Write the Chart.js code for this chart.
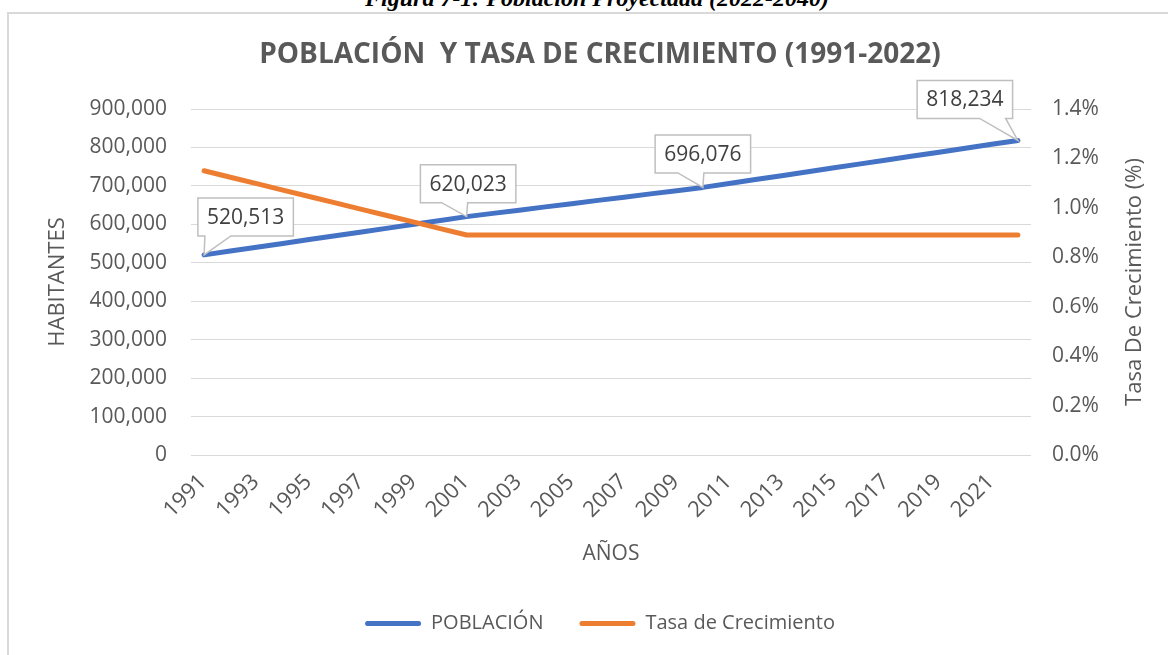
<!DOCTYPE html>
<html>
<head>
<meta charset="utf-8">
<script src="https://cdn.jsdelivr.net/npm/chart.js@4.4.1/dist/chart.umd.min.js"></script>
<style>
html,body{margin:0;padding:0;background:#fff;overflow:hidden}
#page{position:relative;width:1168px;height:655px;overflow:hidden}
#cap{position:absolute;left:0;width:1194px;top:-14px;text-align:center;font:bold italic 24px 'Liberation Serif',serif;line-height:24px;color:#000;white-space:nowrap}
#frame{position:absolute;left:7px;top:12px;width:1200px;height:700px;border:2px solid #d9d9d9;box-sizing:border-box}
#chart{position:absolute;left:0;top:0}
</style>
</head>
<body>
<div id="page">
  <div id="cap">Figura 7-1: Población Proyectada (2022-2040)</div>
  <div id="frame"></div>
  <canvas id="chart" width="1168" height="655"></canvas>
</div>
<script>
// años 1991-2022
const YEARS = ['1991','1992','1993','1994','1995','1996','1997','1998','1999','2000',
  '2001','2002','2003','2004','2005','2006','2007','2008','2009','2010',
  '2011','2012','2013','2014','2015','2016','2017','2018','2019','2020','2021','2022'];

// habitantes
const POBLACION = [520513, 530500, 540400, 550400, 560300, 570300, 580200, 590200, 600100, 610100,
  620023, 628500, 636900, 645400, 653800, 662300, 670700, 679200, 687600, 696076,
  706300, 716400, 726600, 736800, 747000, 757200, 767300, 777500, 787700, 797900, 808100, 818234];

// tasa de crecimiento en %
const TASA = [1.150, 1.124, 1.098, 1.072, 1.046, 1.020, 0.994, 0.968, 0.942, 0.916,
  0.89, 0.89, 0.89, 0.89, 0.89, 0.89, 0.89, 0.89, 0.89, 0.89,
  0.89, 0.89, 0.89, 0.89, 0.89, 0.89, 0.89, 0.89, 0.89, 0.89, 0.89, 0.89];

const POB_TICKS = [0, 100000, 200000, 300000, 400000, 500000, 600000, 700000, 800000, 900000];
const TASA_TICKS = [0, 0.2, 0.4, 0.6, 0.8, 1.0, 1.2, 1.4];

// años con etiqueta de valor
const LABELED = [0, 10, 19, 31];

const FONT = "'Open Sans', sans-serif";
const GREY = '#595959';
Chart.defaults.font.family = FONT;
Chart.defaults.color = GREY;

const fmtNum = (n)=>Number(n).toLocaleString('en-US');

// cajas de etiqueta tipo Excel con flecha hacia el punto
const callouts = {
  id: 'callouts',
  afterDatasetsDraw(chart, args, opts){
    const meta = chart.getDatasetMeta(0);
    const ctx = chart.ctx;
    ctx.save();
    ctx.font = '21px ' + FONT;
    opts.items.forEach(it=>{
      const pt = meta.data[it.index];
      const txt = fmtNum(POBLACION[it.index]);
      const w = ctx.measureText(txt).width + 18, h = 38;
      const cx = pt.x + it.dx, cy = pt.y + it.dy;
      const l = cx - w/2, t = cy - h/2, r = l + w, b = t + h;
      const mid = Math.min(Math.max(pt.x - 12, l + 20), r - 20);
      ctx.beginPath();
      ctx.moveTo(l, t); ctx.lineTo(r, t); ctx.lineTo(r, b);
      ctx.lineTo(mid + 13, b); ctx.lineTo(pt.x, pt.y); ctx.lineTo(mid - 13, b);
      ctx.lineTo(l, b); ctx.closePath();
      ctx.fillStyle = '#fff'; ctx.fill();
      ctx.strokeStyle = '#bfbfbf'; ctx.lineWidth = 1.5; ctx.stroke();
      ctx.fillStyle = '#404040';
      ctx.textAlign = 'center'; ctx.textBaseline = 'middle';
      ctx.fillText(txt, cx, cy + 1);
    });
    ctx.restore();
  }
};

// título del eje secundario, leído de abajo hacia arriba como en Excel
const rightTitle = {
  id: 'rightTitle',
  afterDraw(chart, args, opts){
    const s = chart.scales.y1, a = chart.chartArea;
    const ctx = chart.ctx;
    ctx.save();
    ctx.translate(s.right - 33, (a.top + a.bottom)/2);
    ctx.rotate(-Math.PI/2);
    ctx.font = '22px ' + FONT;
    ctx.fillStyle = GREY;
    ctx.textAlign = 'center'; ctx.textBaseline = 'middle';
    ctx.fillText(opts.text, 0, 0);
    ctx.restore();
  }
};

new Chart(document.getElementById('chart'), {
  type: 'line',
  data: {
    labels: YEARS,
    datasets: [
      {
        label: 'POBLACIÓN', data: POBLACION, yAxisID: 'y', order: 1,
        borderColor: '#4472C4', backgroundColor: '#4472C4', borderWidth: 5,
        pointRadius: 0, tension: 0, borderCapStyle: 'round', borderJoinStyle: 'round'
      },
      {
        label: 'Tasa de Crecimiento', data: TASA, yAxisID: 'y1', order: 0,
        borderColor: '#ED7D31', backgroundColor: '#ED7D31', borderWidth: 5,
        pointRadius: 0, tension: 0, borderCapStyle: 'round', borderJoinStyle: 'round'
      }
    ]
  },
  options: {
    responsive: false,
    animation: false,
    devicePixelRatio: 1,
    layout: { padding: { left: 32, right: 0, top: 0, bottom: 11.5 } },
    scales: {
      x: {
        offset: true,
        grid: { display: false },
        border: { display: false },
        ticks: {
          autoSkip: false, minRotation: 45, maxRotation: 45,
          padding: 6, labelOffset: -1,
          font: { size: 22 }, color: GREY,
          callback: (v, i)=> i % 2 === 0 ? YEARS[i] : ''
        },
        title: { display: true, text: 'AÑOS', font: { size: 21 }, color: GREY, padding: { top: 0, bottom: 11 } },
        afterFit: (s)=>{ s.height = 122.5; }
      },
      y: {
        position: 'left',
        min: 0, max: 900000,
        afterBuildTicks: (s)=>{ s.ticks = POB_TICKS.map(v=>({value: v})); },
        grid: { color: '#d9d9d9', lineWidth: 1, drawTicks: false },
        border: { display: false },
        ticks: { padding: 24, font: { size: 21 }, color: GREY, callback: (v)=>fmtNum(v) },
        title: { display: true, text: 'HABITANTES', font: { size: 22 }, color: GREY, padding: { top: 12.8, bottom: 0 } },
        afterFit: (s)=>{ s.width = 159; }
      },
      y1: {
        position: 'right',
        min: 0, max: 1.4,
        afterBuildTicks: (s)=>{ s.ticks = TASA_TICKS.map(v=>({value: v})); },
        grid: { drawOnChartArea: false, drawTicks: false },
        border: { display: false },
        ticks: { padding: 21, font: { size: 21 }, color: GREY, callback: (v)=>v.toFixed(1) + '%' },
        afterFit: (s)=>{ s.width = 137; }
      }
    },
    plugins: {
      title: {
        display: true,
        text: 'POBLACIÓN  Y TASA DE CRECIMIENTO (1991-2022)',
        font: { size: 28, weight: 'bold' }, color: GREY,
        padding: { top: 38.2, bottom: 37.2 }
      },
      legend: {
        position: 'bottom',
        labels: {
          font: { size: 20 }, color: GREY,
          boxWidth: 56, boxHeight: 5, padding: 36,
          useBorderRadius: true, borderRadius: 2.5,
          sort: (a, b)=>a.datasetIndex - b.datasetIndex,
          generateLabels: (chart)=>Chart.defaults.plugins.legend.labels.generateLabels(chart).map(l=>({...l, lineWidth: 0}))
        }
      },
      tooltip: { enabled: false },
      callouts: { items: [
        { index: LABELED[0], dx: 41.5, dy: -38 },
        { index: LABELED[1], dx: 1.5, dy: -33 },
        { index: LABELED[2], dx: 0, dy: -33.5 },
        { index: LABELED[3], dx: -53, dy: -41 }
      ] },
      rightTitle: { text: 'Tasa De Crecimiento (%)' }
    }
  },
  plugins: [callouts, rightTitle]
});
</script>
</body>
</html>
